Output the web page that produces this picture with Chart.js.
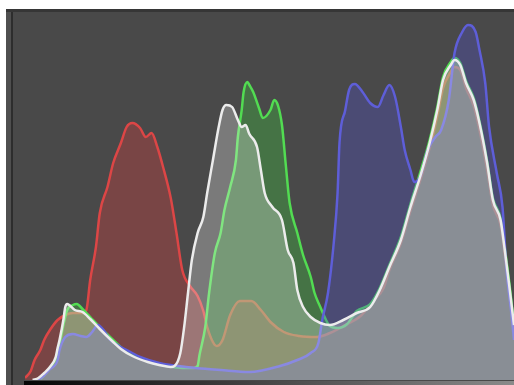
<!DOCTYPE html>
<html>
<head>
<meta charset="utf-8">
<script src="https://cdn.jsdelivr.net/npm/chart.js@4.4.1/dist/chart.umd.min.js"></script>
<style>
  html, body { margin: 0; padding: 0; background: #ffffff; }
  body { width: 514px; height: 385px; position: relative; overflow: hidden; font-family: "DejaVu Sans", sans-serif; }
  #panel { position: absolute; left: 6px; top: 9px; width: 508px; height: 376px; background: #494949; }
  #edgeL1 { position: absolute; left: 6px; top: 9px; width: 5px; height: 376px; background: #4f4f4f; }
  #edgeL2 { position: absolute; left: 11px; top: 9px; width: 2px; height: 376px; background: #2d2d2d; }
  #edgeT { position: absolute; left: 6px; top: 9px; width: 508px; height: 3px; background: #363636; }
  #strip { position: absolute; left: 24px; top: 381px; width: 490px; height: 4px; background: linear-gradient(to right, #050505, #3a3a3a 40%, #8a8a8a); }
  canvas { position: absolute; left: 0; top: 0; }
</style>
</head>
<body>
<div id="panel"></div>
<div id="edgeL1"></div>
<div id="edgeL2"></div>
<div id="edgeT"></div>
<div id="strip"></div>
<canvas id="c" width="514" height="385"></canvas>
<script>
// Histogram data: tone level (0-255) and pixel count (arbitrary units)
const redLevels   = [0,3,5,8,10,13,17,21,25,30,32,34,37,39,43,46,50,53,56,60,63,66,69,72,76,79,82,86,90,93,95,98,100,103,107,112,118,123,128,135,143,152,159,168,175,181,187,190,196,201,206,211,215,218,222,224,227,230,234,237,241,244,248,250,253,255];
const redCounts   = [2,9,20,30,40,50,60,65,67,67,70,100,133,167,193,217,237,253,257,252,243,247,233,213,182,147,110,94,84,69,53,38,34,40,65,79,79,70,58,48,44,43,47,56,64,78,92,110,137,169,199,232,264,292,308,313,310,292,274,250,210,175,155,128,83,50];

const greenLevels = [8,11,14,17,18,20,22,25,27,30,34,39,46,53,60,65,74,82,88,90,91,94,96,99,102,104,107,110,111,113,114,116,117,119,122,124,128,130,132,134,136,138,142,145,149,151,154,157,159,163,168,173,180,185,190,196,201,206,211,215,218,222,224,227,230,234,237,241,244,248,250,253,255];
const greenCounts = [1,7,15,25,35,55,70,75,76,71,63,53,40,28,22,18,14,12,12,14,25,53,87,127,147,170,193,220,243,270,288,298,295,288,272,262,270,280,274,255,215,177,147,125,103,87,73,60,54,52,56,69,76,92,115,143,176,207,240,273,303,318,322,317,299,282,259,219,182,162,135,90,55];

const blueLevels  = [6,9,13,17,18,21,25,29,32,35,38,41,44,50,55,60,70,84,102,117,133,142,149,153,155,158,161,163,164,167,169,172,176,180,184,187,190,193,196,198,201,203,206,210,214,217,221,224,228,231,235,237,240,242,246,249,251,254,255];
const blueCounts  = [0,3,11,20,30,43,46,44,43,48,55,50,41,33,28,23,17,13,10,8,14,20,27,37,60,87,137,187,237,270,290,296,288,277,273,285,295,283,253,230,210,198,203,230,243,250,280,327,348,355,348,330,297,253,207,173,113,60,40];

const whiteLevels = [4,7,10,13,16,17,18,20,21,22,26,30,34,39,46,50,56,64,70,76,78,81,83,85,87,90,93,95,98,101,103,105,108,111,113,115,117,121,123,125,129,134,137,140,142,145,149,154,159,166,173,180,185,190,196,201,206,211,215,218,222,224,227,230,234,237,241,244,248,250,253,255];
const whiteCounts = [0,2,7,13,23,32,40,60,73,76,70,68,61,51,38,31,24,18,15,13,14,27,53,87,120,147,163,187,220,253,270,275,273,260,253,255,246,233,210,187,173,160,130,117,90,73,63,57,55,60,67,73,90,113,140,173,203,237,270,300,315,320,315,297,280,257,217,180,160,133,87,55];

function pts(levels, counts) { return levels.map((x, i) => ({ x: x, y: counts[i] })); }

const series = [
  { name: 'Luminance', levels: whiteLevels, counts: whiteCounts, line: '#ececec', fill: 'rgba(255,255,255,0.27)' },
  { name: 'Blue',      levels: blueLevels,  counts: blueCounts,  line: '#5e5ed8', fill: 'rgba(80,80,215,0.30)' },
  { name: 'Green',     levels: greenLevels, counts: greenCounts, line: '#52dc52', fill: 'rgba(60,210,60,0.31)' },
  { name: 'Red',       levels: redLevels,   counts: redCounts,   line: '#dc4646', fill: 'rgba(220,60,60,0.33)' }
];

new Chart(document.getElementById('c'), {
  type: 'line',
  data: {
    datasets: series.map(s => ({
      label: s.name,
      data: pts(s.levels, s.counts),
      borderColor: s.line,
      backgroundColor: s.fill,
      borderWidth: 2.5,
      fill: 'origin',
      pointRadius: 0,
      cubicInterpolationMode: 'monotone'
    }))
  },
  options: {
    responsive: false,
    animation: false,
    layout: { padding: { left: 25, top: 11, right: 0, bottom: 5 } },
    plugins: { legend: { display: false }, tooltip: { enabled: false } },
    scales: {
      x: { type: 'linear', min: 0, max: 255, display: false },
      y: { type: 'linear', min: 0, max: 369, display: false }
    }
  }
});
</script>
</body>
</html>
